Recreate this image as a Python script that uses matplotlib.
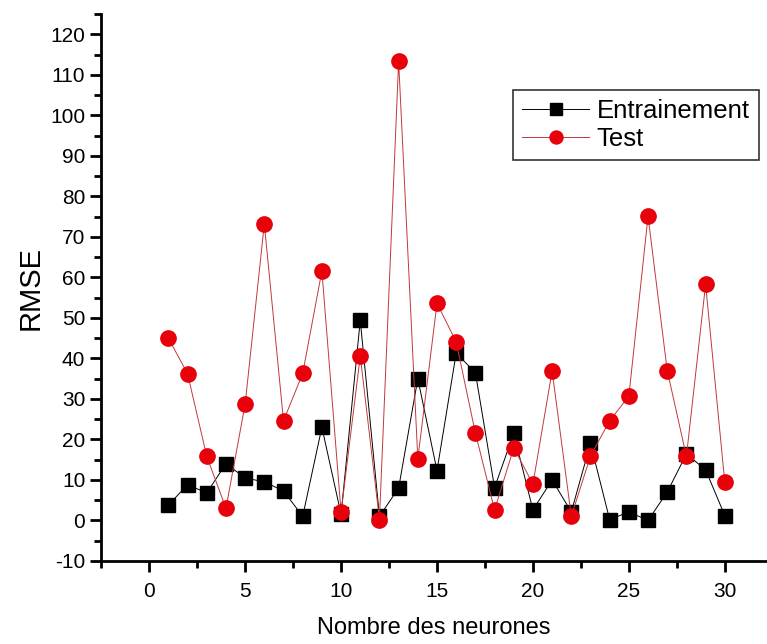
import numpy as np
import matplotlib.pyplot as plt
from matplotlib.ticker import MultipleLocator

plt.rcParams['font.family'] = ['Liberation Sans', 'DejaVu Sans']
plt.rcParams['axes.unicode_minus'] = False

neurones = np.arange(1, 31)
entrainement = [3.8, 8.8, 6.8, 14.0, 10.5, 9.5, 7.3, 1.0, 23.0, 1.5,
                49.4, 1.0, 8.0, 35.0, 12.3, 41.3, 36.5, 8.1, 21.5, 2.6,
                10.0, 2.1, 19.0, 0.2, 2.1, 0.0, 7.0, 16.4, 12.5, 1.2]
test = [45.0, 36.2, 15.8, 3.0, 28.7, 73.2, 24.6, 36.3, 61.6, 2.0,
        40.6, 0.2, 113.4, 15.2, 53.6, 44.1, 21.6, 2.6, 17.9, 9.0,
        36.9, 1.0, 15.9, 24.6, 30.7, 75.1, 37.0, 15.8, 58.3, 9.4]

fig = plt.figure(figsize=(7.67, 6.44), dpi=100)
ax = fig.add_axes([0.132, 0.129, 0.868, 0.849])

ax.plot(neurones, entrainement, color='black', linewidth=0.7, marker='s',
        markersize=10, label='Entrainement')
ax.plot(neurones, test, color='#c0393b', linewidth=0.7, marker='o',
        markersize=11, markerfacecolor='#e8000b', markeredgecolor='#e8000b',
        label='Test')

ax.set_xlim(-2.5, 32.2)
ax.set_ylim(-10, 125)
ax.xaxis.set_major_locator(MultipleLocator(5))
ax.xaxis.set_minor_locator(MultipleLocator(2.5))
ax.yaxis.set_minor_locator(MultipleLocator(5))
ax.set_yticks(np.arange(-10, 121, 10))

for s in ['top', 'right']:
    ax.spines[s].set_visible(False)
for s in ['left', 'bottom']:
    ax.spines[s].set_linewidth(2)

ax.tick_params(which='major', direction='out', length=8, width=2, labelsize=15)
ax.tick_params(which='minor', direction='out', length=5, width=2)
ax.tick_params(axis='x', pad=7)

ax.set_xlabel('Nombre des neurones', fontsize=17, labelpad=12)
ax.set_ylabel('RMSE', fontsize=21, labelpad=4)

leg = ax.legend(loc='upper left', bbox_to_anchor=(0.619, 0.861), fontsize=18.5,
                frameon=True, fancybox=False, handlelength=2.6, markerscale=0.85,
                borderpad=0.35, labelspacing=0.15, handletextpad=0.3,
                borderaxespad=0)
leg.get_frame().set_edgecolor('black')
leg.get_frame().set_linewidth(1.2)

fig.savefig('out.png', dpi=100)
